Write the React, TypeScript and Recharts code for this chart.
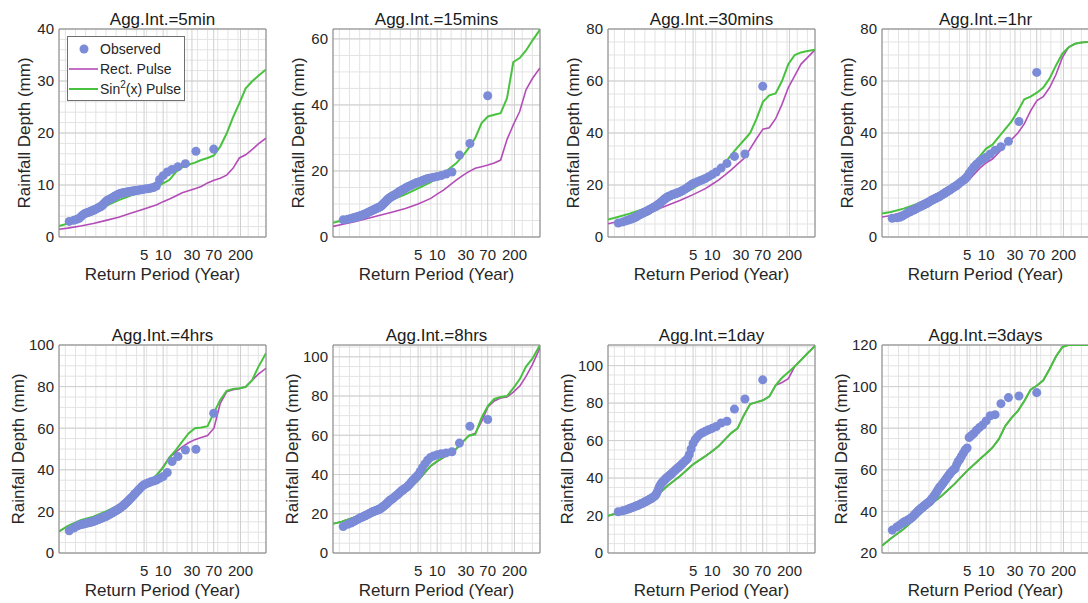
import React from 'react';
import {
  CartesianGrid,
  ComposedChart,
  Legend,
  Line,
  ReferenceArea,
  Scatter,
  XAxis,
  YAxis,
} from 'recharts';

// x axis is the Gumbel reduced variate, labelled with return periods
const RETURN_PERIOD_TICKS = [5, 10, 30, 70, 200];
const X_MIN = -1.85;
const X_MAX = 6.3;

// reduced-variate positions where the two pulse models were sampled
const MODEL_U = [
  -1.85, -1.5, -1.0, -0.5, 0, 0.5, 1.0, 1.5, 2.0, 2.25, 2.5, 2.75, 3.0, 3.25,
  3.5, 3.75, 4.0, 4.25, 4.5, 4.75, 5.0, 5.25, 5.5, 5.75, 6.0, 6.3,
];

// observed annual maxima (sorted ascending)
const obs5min = [
  3.0, 3.2, 3.4, 3.6, 4.0, 4.3, 4.5, 4.6, 4.7, 4.8,
  4.9, 5.0, 5.1, 5.2, 5.3, 5.4, 5.5, 5.6, 5.7, 5.8,
  5.9, 6.1, 6.3, 6.5, 6.7, 6.9, 7.0, 7.1, 7.2, 7.3,
  7.4, 7.5, 7.6, 7.8, 7.9, 8.0, 8.1, 8.2, 8.3, 8.4,
  8.4, 8.5, 8.5, 8.6, 8.6, 8.7, 8.7, 8.8, 8.8, 8.9,
  8.9, 9.0, 9.0, 9.1, 9.1, 9.2, 9.3, 9.3, 9.4, 9.5,
  9.8, 11.0, 11.8, 12.5, 13.0, 13.5, 14.1, 16.5, 16.9,
];
const obs15min = [
  5.2, 5.4, 5.6, 5.8, 6.0, 6.1, 6.3, 6.4, 6.6, 6.7,
  6.9, 7.0, 7.2, 7.4, 7.6, 7.7, 7.9, 8.0, 8.2, 8.3,
  8.5, 8.6, 8.8, 8.9, 9.0, 9.2, 9.4, 9.7, 10.0, 10.3,
  10.6, 10.9, 11.3, 11.5, 11.8, 12.0, 12.2, 12.4, 12.6, 12.8,
  13.0, 13.2, 13.5, 13.8, 14.0, 14.2, 14.4, 14.7, 14.9, 15.2,
  15.4, 15.6, 15.9, 16.1, 16.4, 16.6, 16.8, 17.1, 17.4, 17.7,
  17.9, 18.1, 18.3, 18.6, 19.1, 19.7, 24.8, 28.3, 42.8,
];
const obs30min = [
  5.4, 5.8, 6.2, 6.5, 6.8, 7.0, 7.3, 7.6, 7.9, 8.2,
  8.5, 8.7, 9.0, 9.2, 9.4, 9.6, 9.8, 10.0, 10.2, 10.5,
  10.7, 10.9, 11.1, 11.3, 11.5, 11.6, 11.9, 12.2, 12.5, 12.8,
  13.1, 13.5, 13.8, 14.1, 14.5, 14.8, 15.1, 15.4, 15.6, 15.8,
  16.0, 16.2, 16.4, 16.5, 16.7, 16.9, 17.1, 17.3, 17.6, 17.9,
  18.2, 18.6, 19.0, 19.5, 20.0, 20.6, 20.9, 21.2, 21.6, 22.0,
  22.5, 23.2, 24.0, 25.0, 26.5, 28.3, 31.0, 31.9, 58.0,
];
const obs1hr = [
  7.2, 7.4, 7.6, 8.1, 8.5, 8.9, 9.3, 9.6, 9.9, 10.1,
  10.4, 10.6, 10.8, 11.0, 11.3, 11.5, 11.7, 11.9, 12.1, 12.3,
  12.5, 12.7, 12.9, 13.1, 13.3, 13.5, 13.8, 14.0, 14.2, 14.4,
  14.6, 14.8, 15.0, 15.2, 15.4, 15.6, 15.8, 16.1, 16.4, 16.6,
  16.9, 17.2, 17.5, 17.8, 18.1, 18.4, 18.8, 19.1, 19.4, 19.8,
  20.3, 20.8, 21.3, 21.8, 22.4, 23.2, 24.5, 25.7, 26.9, 28.0,
  29.0, 29.9, 30.7, 31.9, 33.4, 34.7, 36.8, 44.4, 63.3,
];
const obs4hrs = [
  10.7, 12.0, 12.9, 13.4, 13.7, 13.9, 14.1, 14.3, 14.5, 14.6,
  14.8, 14.9, 15.1, 15.3, 15.5, 15.7, 15.9, 16.1, 16.3, 16.5,
  16.7, 16.9, 17.1, 17.3, 17.5, 17.7, 18.0, 18.2, 18.5, 18.8,
  19.0, 19.3, 19.6, 19.9, 20.2, 20.5, 20.8, 21.1, 21.5, 21.9,
  22.3, 22.7, 23.2, 23.8, 24.4, 25.0, 25.6, 26.3, 27.0, 27.8,
  28.6, 29.4, 30.3, 31.2, 32.1, 32.8, 33.3, 33.8, 34.2, 34.6,
  35.1, 35.9, 36.8, 38.7, 44.0, 46.4, 49.5, 49.9, 67.2,
];
const obs8hrs = [
  13.5, 14.6, 15.3, 15.9, 16.5, 17.0, 17.5, 17.9, 18.2, 18.5,
  18.8, 19.1, 19.4, 19.7, 20.0, 20.3, 20.6, 20.9, 21.1, 21.3,
  21.5, 21.7, 21.9, 22.1, 22.3, 22.5, 22.9, 23.3, 23.7, 24.1,
  24.5, 25.0, 25.5, 26.0, 26.5, 27.0, 27.3, 27.6, 28.1, 28.6,
  29.1, 29.6, 30.1, 30.7, 31.3, 31.9, 32.4, 32.8, 33.3, 34.0,
  34.8, 35.8, 36.8, 37.8, 38.8, 39.8, 41.5, 43.5, 45.4, 47.2,
  48.6, 49.4, 50.0, 50.6, 51.0, 51.6, 56.0, 64.6, 68.0,
];
const obs1day = [
  22.0, 22.5, 23.0, 23.5, 23.9, 24.3, 24.6, 24.9, 25.2, 25.5,
  25.8, 26.1, 26.4, 26.7, 27.0, 27.3, 27.6, 27.9, 28.2, 28.5,
  28.8, 29.1, 29.4, 29.8, 30.2, 30.6, 31.5, 32.5, 33.8, 35.0,
  36.2, 37.0, 37.8, 38.3, 38.8, 39.5, 40.0, 40.5, 41.0, 41.5,
  42.0, 42.6, 43.2, 43.8, 44.4, 45.0, 45.6, 46.3, 47.0, 47.8,
  48.6, 49.4, 50.3, 52.5, 55.5, 58.5, 60.5, 62.0, 63.3, 64.2,
  65.0, 65.8, 66.5, 67.5, 69.4, 70.3, 76.8, 82.2, 92.4,
];
const obs3days = [
  31.0, 32.5, 33.5, 34.3, 35.0, 35.4, 35.8, 36.2, 36.7, 37.2,
  37.8, 38.4, 39.0, 39.6, 40.2, 40.7, 41.1, 41.5, 41.9, 42.3,
  42.7, 43.1, 43.5, 43.9, 44.2, 44.5, 45.0, 45.6, 46.2, 46.8,
  47.5, 48.2, 49.0, 49.8, 50.6, 51.4, 52.0, 52.6, 53.3, 54.0,
  54.8, 55.6, 56.4, 57.2, 58.0, 58.8, 59.5, 60.0, 60.6, 62.5,
  64.0, 65.0, 66.5, 68.0, 69.5, 70.5, 75.5, 76.5, 77.5, 79.0,
  80.3, 81.5, 83.5, 86.0, 86.5, 91.8, 94.7, 95.5, 97.1,
];

// model curves at MODEL_U
const rect5min = [1.5, 1.7, 2.1, 2.6, 3.2, 3.8, 4.6, 5.4, 6.2, 6.8, 7.3, 7.9, 8.5, 8.9, 9.3, 9.7, 10.4, 10.9, 11.3, 11.9, 13.2, 15.2, 15.8, 16.8, 17.9, 19.0];
const sin5min = [2.1, 2.6, 3.6, 4.8, 6.0, 7.1, 8.0, 8.8, 9.6, 10.3, 11.0, 12.5, 13.4, 13.9, 14.3, 14.8, 15.2, 15.7, 17.4, 19.9, 23.0, 25.7, 28.6, 29.9, 31.0, 32.2];
const rect15min = [3.2, 3.8, 4.6, 5.6, 6.6, 7.6, 8.6, 10.0, 11.7, 13.0, 14.2, 15.7, 17.2, 18.6, 19.8, 20.8, 21.3, 21.8, 22.4, 23.3, 29.5, 34.0, 38.0, 44.6, 48.0, 51.2];
const sin15min = [4.3, 5.0, 6.2, 7.7, 9.5, 11.3, 12.9, 14.7, 16.6, 18.0, 19.3, 20.8, 22.3, 24.5, 27.0, 30.0, 34.5, 36.5, 37.0, 37.5, 42.0, 53.0, 54.2, 56.5, 59.5, 62.8];
const rect30min = [5.1, 5.9, 7.1, 8.6, 10.3, 12.2, 14.1, 16.3, 18.7, 20.3, 21.9, 23.8, 25.8, 28.0, 30.2, 34.0, 37.9, 41.5, 42.0, 45.5, 51.0, 57.5, 62.0, 66.5, 69.0, 72.0];
const sin30min = [6.7, 7.6, 9.0, 10.6, 12.3, 14.2, 16.2, 18.7, 21.9, 23.6, 25.6, 28.3, 31.6, 34.5, 37.2, 40.0, 45.5, 52.0, 54.5, 55.2, 60.0, 66.5, 70.0, 71.0, 71.5, 72.0];
const rect1hr = [7.7, 8.3, 9.6, 11.5, 13.5, 15.7, 18.0, 21.2, 26.5, 28.5, 30.0, 32.5, 35.4, 37.5, 40.0, 43.5, 48.5, 52.5, 54.0, 57.5, 62.5, 69.0, 73.0, 74.3, 74.8, 75.0];
const sin1hr = [9.0, 9.6, 10.9, 12.6, 14.8, 17.0, 19.3, 24.5, 31.0, 34.0, 35.5, 38.5, 41.5, 44.5, 48.5, 53.0, 54.0, 55.5, 57.5, 61.0, 66.0, 70.5, 73.0, 74.3, 74.8, 75.0];
const rect4hrs = [10.4, 12.8, 15.5, 17.3, 19.8, 22.8, 27.0, 31.8, 37.3, 41.5, 46.0, 48.5, 51.0, 53.0, 54.5, 55.5, 56.5, 60.0, 72.0, 77.5, 78.5, 79.0, 80.0, 83.0, 86.0, 88.8];
const sin4hrs = [10.4, 13.0, 15.8, 17.5, 20.0, 23.0, 27.2, 32.0, 37.6, 41.0, 46.0, 49.5, 53.5, 57.5, 60.0, 60.3, 61.0, 67.5, 73.5, 78.0, 78.8, 79.2, 79.8, 83.0, 89.5, 96.0];
const rect8hrs = [14.9, 16.0, 18.2, 20.6, 23.2, 25.8, 30.8, 36.8, 44.3, 46.6, 48.6, 50.8, 53.0, 56.5, 59.8, 61.0, 67.0, 74.5, 77.5, 79.0, 79.5, 82.0, 85.0, 90.0, 96.0, 104.5];
const sin8hrs = [14.9, 16.0, 18.3, 20.8, 23.4, 26.0, 31.0, 37.0, 44.5, 46.8, 48.8, 51.0, 53.0, 56.5, 59.8, 60.5, 69.0, 75.0, 78.5, 79.5, 80.0, 84.0, 88.5, 95.0, 99.0, 106.0];
const rect1day = [19.8, 21.3, 24.4, 27.0, 29.7, 35.9, 41.2, 47.3, 51.8, 54.3, 57.0, 60.5, 64.0, 66.5, 73.5, 79.5, 80.5, 81.5, 83.5, 89.5, 91.0, 93.0, 99.5, 103.0, 106.5, 110.5];
const sin1day = [19.8, 21.3, 24.4, 27.0, 29.7, 35.9, 41.2, 47.3, 51.8, 54.3, 57.0, 60.5, 64.0, 66.5, 73.5, 79.5, 80.5, 81.5, 83.5, 89.5, 93.5, 96.5, 99.5, 103.0, 106.5, 110.5];
const rect3days = [23.5, 27.0, 31.5, 37.0, 42.7, 47.5, 53.1, 59.5, 65.1, 67.8, 70.7, 74.7, 81.0, 85.0, 88.3, 93.0, 98.5, 100.5, 103.0, 108.5, 114.5, 119.0, 120.0, 120.0, 120.0, 120.0];
const sin3days = [23.5, 27.0, 31.5, 37.0, 42.7, 47.5, 53.1, 59.5, 65.1, 67.8, 70.7, 74.7, 81.0, 85.0, 88.3, 93.0, 98.5, 100.5, 103.0, 108.5, 114.5, 119.0, 120.0, 120.0, 120.0, 120.0];

const OBS_COLOR = '#7b8bd7';
const RECT_COLOR = '#b44cb8';
const SIN_COLOR = '#48c23e';
const TEXT = '#262626';
const FONT = '"Liberation Sans", Arial, Helvetica, sans-serif';

const CHART_W = 270;
const CHART_H = 290;
const COL_LEFT = [0, 274, 549, 823];
const ROW_TOP = [0, 316];

type Panel = {
  title: string;
  obs: number[];
  rect: number[];
  sin: number[];
  yDomain: [number, number];
  yTicks: number[];
  yMinor: number;
  legend?: boolean;
};

const PANELS: Panel[] = [
  { title: 'Agg.Int.=5min', obs: obs5min, rect: rect5min, sin: sin5min, yDomain: [0, 40], yTicks: [0, 10, 20, 30, 40], yMinor: 2, legend: true },
  { title: 'Agg.Int.=15mins', obs: obs15min, rect: rect15min, sin: sin15min, yDomain: [0, 63], yTicks: [0, 20, 40, 60], yMinor: 5 },
  { title: 'Agg.Int.=30mins', obs: obs30min, rect: rect30min, sin: sin30min, yDomain: [0, 80], yTicks: [0, 20, 40, 60, 80], yMinor: 5 },
  { title: 'Agg.Int.=1hr', obs: obs1hr, rect: rect1hr, sin: sin1hr, yDomain: [0, 80], yTicks: [0, 20, 40, 60, 80], yMinor: 5 },
  { title: 'Agg.Int.=4hrs', obs: obs4hrs, rect: rect4hrs, sin: sin4hrs, yDomain: [0, 100], yTicks: [0, 20, 40, 60, 80, 100], yMinor: 5 },
  { title: 'Agg.Int.=8hrs', obs: obs8hrs, rect: rect8hrs, sin: sin8hrs, yDomain: [0, 106], yTicks: [0, 20, 40, 60, 80, 100], yMinor: 5 },
  { title: 'Agg.Int.=1day', obs: obs1day, rect: rect1day, sin: sin1day, yDomain: [0, 111], yTicks: [0, 20, 40, 60, 80, 100], yMinor: 5 },
  { title: 'Agg.Int.=3days', obs: obs3days, rect: rect3days, sin: sin3days, yDomain: [20, 120], yTicks: [20, 40, 60, 80, 100, 120], yMinor: 5 },
];

const gumbel = (T: number) => -Math.log(-Math.log(1 - 1 / T));
// Weibull plotting position for rank i of n (ascending)
const plotPos = (i: number, n: number) => -Math.log(-Math.log(i / (n + 1)));
const X_TICKS = RETURN_PERIOD_TICKS.map(gumbel);

const steps = (lo: number, hi: number, step: number) => {
  const out: number[] = [];
  for (let v = Math.ceil(lo / step - 1e-9) * step; v <= hi + 1e-9; v += step) {
    out.push(Number(v.toFixed(3)));
  }
  return out;
};

const renderLegend = () => (
  <div
    style={{
      border: '1px solid #6f6f6f',
      background: '#fff',
      width: 116,
      padding: '2px 0 1px',
      fontSize: 14,
      color: TEXT,
      lineHeight: '20px',
    }}
  >
    <div style={{ display: 'flex', alignItems: 'center', height: 20 }}>
      <svg width={32} height={20}>
        <circle cx={16} cy={10} r={4.5} fill={OBS_COLOR} />
      </svg>
      <span>Observed</span>
    </div>
    <div style={{ display: 'flex', alignItems: 'center', height: 20 }}>
      <svg width={32} height={20}>
        <line x1={1} x2={30} y1={10} y2={10} stroke={RECT_COLOR} strokeWidth={1.6} />
      </svg>
      <span>Rect. Pulse</span>
    </div>
    <div style={{ display: 'flex', alignItems: 'center', height: 20 }}>
      <svg width={32} height={20}>
        <line x1={1} x2={30} y1={10} y2={10} stroke={SIN_COLOR} strokeWidth={2} />
      </svg>
      <span>
        Sin<sup style={{ fontSize: 10, lineHeight: 0 }}>2</sup>(x) Pulse
      </span>
    </div>
  </div>
);

const PanelChart = ({ p, left, top }: { p: Panel; left: number; top: number }) => {
  const obsData = p.obs.map((d, i) => ({ u: plotPos(i + 1, p.obs.length), d }));
  const rectData = MODEL_U.map((u, i) => ({ u, d: p.rect[i] }));
  const sinData = MODEL_U.map((u, i) => ({ u, d: p.sin[i] }));
  const minorX = steps(X_MIN, X_MAX, 0.4);
  const minorY = steps(p.yDomain[0], p.yDomain[1], p.yMinor);
  const labelGap = p.yTicks.some((t) => t >= 100) ? 41 : 34.5;

  return (
    <div style={{ position: 'absolute', left, top, width: CHART_W, height: CHART_H }}>
      <div
        style={{
          position: 'absolute',
          left: 59,
          top: 10,
          width: 207,
          textAlign: 'center',
          fontSize: 17,
          lineHeight: '20px',
          color: '#1a1a1a',
          whiteSpace: 'nowrap',
        }}
      >
        {p.title}
      </div>
      <ComposedChart
        width={CHART_W}
        height={CHART_H}
        margin={{ top: 29, right: 4, bottom: 0, left: 0 }}
      >
        <CartesianGrid stroke='#e3e3e3' horizontalValues={minorY} verticalValues={minorX} />
        <CartesianGrid stroke='#cfcfcf' />
        <XAxis
          type='number'
          dataKey='u'
          domain={[X_MIN, X_MAX]}
          allowDataOverflow
          ticks={X_TICKS}
          interval={0}
          tickFormatter={(_v: number, i: number) => String(RETURN_PERIOD_TICKS[i])}
          tickLine={false}
          axisLine={false}
          tickSize={0}
          tickMargin={12}
          height={53}
          tick={{ fontSize: 15, fill: TEXT }}
          label={(props: any) => {
            const vb = props.viewBox;
            return (
              <text x={vb.x + vb.width / 2} y={vb.y + 43} textAnchor='middle' fontSize={17} fill={TEXT}>
                Return Period (Year)
              </text>
            );
          }}
        />
        <YAxis
          type='number'
          dataKey='d'
          domain={p.yDomain}
          allowDataOverflow
          ticks={p.yTicks}
          interval={0}
          width={59}
          tickLine={false}
          axisLine={false}
          tickSize={0}
          tickMargin={5}
          tick={{ fontSize: 15, fill: TEXT }}
          label={(props: any) => {
            const vb = props.viewBox;
            const cx = vb.x + vb.width - labelGap;
            const cy = vb.y + vb.height / 2;
            return (
              <text
                x={cx}
                y={cy}
                transform={`rotate(-90 ${cx} ${cy})`}
                textAnchor='middle'
                dominantBaseline='central'
                fontSize={17}
                fill={TEXT}
              >
                Rainfall Depth (mm)
              </text>
            );
          }}
        />
        <ReferenceArea
          x1={X_MIN}
          x2={X_MAX}
          y1={p.yDomain[0]}
          y2={p.yDomain[1]}
          fill='none'
          stroke='#8a8a8a'
          strokeWidth={1}
        />
        <Scatter name='Observed' data={obsData} fill={OBS_COLOR} isAnimationActive={false} />
        <Line
          name='Rect. Pulse'
          data={rectData}
          dataKey='d'
          type='linear'
          stroke={RECT_COLOR}
          strokeWidth={1.6}
          dot={false}
          activeDot={false}
          isAnimationActive={false}
        />
        <Line
          name='Sin²(x) Pulse'
          data={sinData}
          dataKey='d'
          type='linear'
          stroke={SIN_COLOR}
          strokeWidth={2}
          dot={false}
          activeDot={false}
          isAnimationActive={false}
        />
        {p.legend && (
          <Legend
            layout='vertical'
            align='center'
            verticalAlign='middle'
            content={renderLegend}
            wrapperStyle={{ left: 67, top: 36, width: 'auto' }}
          />
        )}
      </ComposedChart>
    </div>
  );
};

const App: React.FC = () => {
  return (
    <div
      style={{
        position: 'absolute',
        left: 0,
        top: 0,
        width: 1088,
        height: 603,
        overflow: 'hidden',
        background: '#fff',
        fontFamily: FONT,
      }}
    >
      {PANELS.map((p, i) => (
        <PanelChart
          key={p.title}
          p={p}
          left={COL_LEFT[i % 4]}
          top={ROW_TOP[Math.floor(i / 4)]}
        />
      ))}
    </div>
  );
};

export default App;
